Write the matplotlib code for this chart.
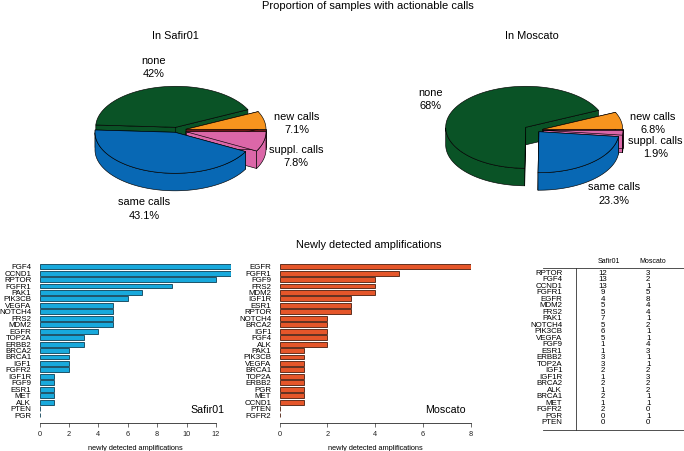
import numpy as np
import matplotlib
matplotlib.use('Agg')
import matplotlib.pyplot as plt
from matplotlib.patches import Polygon

plt.rcParams['font.family'] = ['Liberation Sans', 'DejaVu Sans']

# Pie data
pie_safir = [7.1, 42, 43.1, 7.8]
pie_moscato = [6.8, 68, 23.3, 1.9]
pie_names = ['new calls', 'none', 'same calls', 'suppl. calls']
pie_colors = ['#F7941E', '#0A5326', '#0868B4', '#DB67A8']
side_colors = ['#6B1616', '#0A5326', '#0868B4', '#DB67A8']

# Bar data
safir_genes = ['FGF4', 'CCND1', 'RPTOR', 'FGFR1', 'PAK1', 'PIK3CB', 'VEGFA', 'NOTCH4', 'FRS2', 'MDM2', 'EGFR',
               'TOP2A', 'ERBB2', 'BRCA2', 'BRCA1', 'IGF1', 'FGFR2', 'IGF1R', 'FGF9', 'ESR1', 'MET', 'ALK', 'PTEN', 'PGR']
safir_counts = [13, 13, 12, 9, 7, 6, 5, 5, 5, 5, 4, 3, 3, 2, 2, 2, 2, 1, 1, 1, 1, 1, 0, 0]
moscato_genes = ['EGFR', 'FGFR1', 'FGF9', 'FRS2', 'MDM2', 'IGF1R', 'ESR1', 'RPTOR', 'NOTCH4', 'BRCA2', 'IGF1', 'FGF4',
                 'ALK', 'PAK1', 'PIK3CB', 'VEGFA', 'BRCA1', 'TOP2A', 'ERBB2', 'PGR', 'MET', 'CCND1', 'PTEN', 'FGFR2']
moscato_counts = [8, 5, 4, 4, 4, 3, 3, 3, 2, 2, 2, 2, 2, 1, 1, 1, 1, 1, 1, 1, 1, 1, 0, 0]

# Table data
table_genes = ['RPTOR', 'FGF4', 'CCND1', 'FGFR1', 'EGFR', 'MDM2', 'FRS2', 'PAK1', 'NOTCH4', 'PIK3CB', 'VEGFA', 'FGF9',
               'ESR1', 'ERBB2', 'TOP2A', 'IGF1', 'IGF1R', 'BRCA2', 'ALK', 'BRCA1', 'MET', 'FGFR2', 'PGR', 'PTEN']
table_safir = [12, 13, 13, 9, 4, 5, 5, 7, 5, 6, 5, 1, 1, 3, 3, 2, 1, 2, 1, 2, 1, 2, 0, 0]
table_moscato = [3, 2, 1, 5, 8, 4, 4, 1, 2, 1, 1, 4, 3, 1, 1, 2, 3, 2, 2, 1, 1, 0, 1, 0]

W, H = 684, 451
fig = plt.figure(figsize=(W / 100, H / 100), dpi=100)

# whole figure overlay in pixel coords, used for the pies and the table
bg = fig.add_axes([0, 0, 1, 1])
bg.set_xlim(0, W)
bg.set_ylim(H, 0)
bg.axis('off')


def pie3d(cx, cy, values, shifts, rx=80, ry=41, depth=17.5):
    starts = np.cumsum([0] + values[:-1]) / 100 * 360
    ends = np.cumsum(values) / 100 * 360
    # back wedges first so the front ones cover them
    mids = np.radians((starts + ends) / 2)
    order = np.argsort(-np.sin(mids))
    for i in order:
        ax0 = cx + shifts[i][0]
        ay0 = cy + shifts[i][1]
        t = np.radians(np.linspace(starts[i], ends[i], 200))
        ex = ax0 + rx * np.cos(t)
        ey = ay0 - ry * np.sin(t)
        kw = dict(edgecolor='black', linewidth=0.45, joinstyle='round')
        # cut sides
        for a in (starts[i], ends[i]):
            r = np.radians(a)
            px, py = ax0 + rx * np.cos(r), ay0 - ry * np.sin(r)
            bg.add_patch(Polygon([(ax0, ay0), (px, py), (px, py + depth), (ax0, ay0 + depth)],
                                 facecolor=side_colors[i], **kw))
        # outer rim, only the part facing the viewer
        front = np.sin(t) <= 0
        if front.any():
            fx, fy = ex[front], ey[front]
            bg.add_patch(Polygon(np.r_[np.c_[fx, fy], np.c_[fx, fy + depth][::-1]], facecolor=pie_colors[i], **kw))
        bg.add_patch(Polygon(np.r_[[(ax0, ay0)], np.c_[ex, ey]], facecolor=pie_colors[i], **kw))


pie3d(175, 129.3, pie_safir, [(11, 0), (0.7, -2), (0, 3), (11, 2.4)])
pie3d(525, 129.3, pie_moscato, [(17.7, 0), (0.7, -2), (14, 2.4), (18, 1)])


def pct(v):
    return f'{v:g}%'


bg.text(368, 6, 'Proportion of samples with actionable calls', ha='center', va='center', fontsize=8)
bg.text(175, 36, 'In Safir01', ha='center', va='center', fontsize=7.8)
bg.text(531.7, 36, 'In Moscato', ha='center', va='center', fontsize=7.9)
bg.text(368.7, 245, 'Newly detected amplifications', ha='center', va='center', fontsize=7.95)

for i, x, y in [(1, 153.3, 67.5), (0, 296.7, 123.3), (3, 296, 156.5), (2, 144, 209)]:
    bg.text(x, y - 6.7, pie_names[i], ha='center', va='center', fontsize=7.9)
    bg.text(x, y + 6.7, pct(pie_safir[i]), ha='center', va='center', fontsize=7.9)
for i, x, y in [(1, 430.7, 99.5), (0, 653, 123.5), (3, 655.7, 147.3), (2, 614, 194)]:
    bg.text(x, y - 6.7, pie_names[i], ha='center', va='center', fontsize=7.9)
    bg.text(x, y + 6.7, pct(pie_moscato[i]), ha='center', va='center', fontsize=7.9)


def bars(left, right, genes, counts, color, edge, xmax, ticks, name, name_x):
    ax = fig.add_axes([left / W, 1 - 423 / H, (right - left) / W, (423 - 261) / H])
    y = np.arange(len(genes))
    ax.barh(y, counts, height=0.76, color=color, edgecolor=edge, linewidth=0.6)
    ax.set_xlim(0, xmax)
    ax.set_ylim(24.24, -0.88)
    ax.set_yticks(y)
    ax.set_yticklabels(genes, fontsize=5.7)
    ax.tick_params(axis='y', length=0, pad=6)
    ax.set_xticks(ticks)
    ax.tick_params(axis='x', labelsize=5.3, length=3, width=0.5, pad=3, color='#333333', labelcolor='#222222')
    for s in ('top', 'right', 'left'):
        ax.spines[s].set_visible(False)
    ax.spines['bottom'].set_linewidth(0.5)
    ax.spines['bottom'].set_bounds(0, ticks[-1])
    ax.set_xlabel('newly detected amplifications', fontsize=5.3, labelpad=4.5)
    ax.patch.set_alpha(0)
    ax.text(name_x, 22.2, name, fontsize=7.7, ha='center', va='center')
    return ax


bars(39.5, 230.7, safir_genes, safir_counts, '#18A9DC', '#0C3F55', 13, list(range(0, 13, 2)), 'Safir01', 11.4)
bars(279.7, 470.7, moscato_genes, moscato_counts, '#E5562A', '#4A1C0C', 8, list(range(0, 9, 2)), 'Moscato', 6.95)

# Table
bg.plot([543, 684], [268, 268], color='#333333', lw=0.6)
bg.plot([543, 684], [430.3, 430.3], color='#333333', lw=0.6)
bg.plot([576, 576], [268, 430.3], color='#333333', lw=0.6)
bg.text(608.7, 261.7, 'Safir01', ha='center', va='center', fontsize=5)
bg.text(652.7, 261.7, 'Moscato', ha='center', va='center', fontsize=5)
row_y = np.linspace(273.3, 422.7, len(table_genes))
for yy, g, a, b in zip(row_y, table_genes, table_safir, table_moscato):
    bg.text(562.3, yy, g, ha='right', va='center', fontsize=5.7)
    bg.text(602.7, yy, str(a), ha='center', va='center', fontsize=5.7)
    bg.text(648.3, yy, str(b), ha='center', va='center', fontsize=5.7)

fig.savefig('out.png', dpi=100)
